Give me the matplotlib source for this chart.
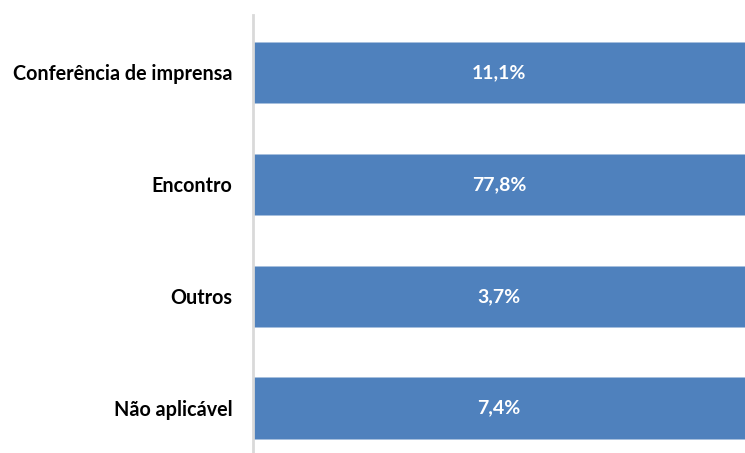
import matplotlib
matplotlib.use("Agg")
import matplotlib.pyplot as plt

categorias = ["Conferência de imprensa", "Encontro", "Outros", "Não aplicável"]
valores = [11.1, 77.8, 3.7, 7.4]
# grafico de barras 100% empilhadas: cada linha tem so uma serie
percentual_linha = [100, 100, 100, 100]
rotulos = ["11,1%", "77,8%", "3,7%", "7,4%"]

plt.rcParams['font.family'] = ['Lato', 'DejaVu Sans']

fig = plt.figure(figsize=(7.45, 4.53), dpi=100)
ax = fig.add_axes([253 / 745, 0, 1 - 253 / 745, 1 - 15 / 453])

pos = list(range(len(categorias)))
barras = ax.barh(pos, percentual_linha, height=0.55, color='#4f81bd',
                 edgecolor='#a7bfde', linewidth=0.6)

for b, txt in zip(barras, rotulos):
    ax.text(b.get_x() + b.get_width() / 2, b.get_y() + b.get_height() / 2, txt,
            ha='center', va='center', color='white', fontsize=14, fontweight='bold')

ax.set_xlim(0, 100)
ax.set_ylim(3.4, -0.513)
ax.set_yticks(pos)
ax.set_yticklabels(categorias, fontsize=14.2, fontweight='bold')
ax.tick_params(axis='y', length=0, pad=15)
ax.set_xticks([])
for s in ['top', 'right', 'bottom']:
    ax.spines[s].set_visible(False)
ax.spines['left'].set_color('#d9d9d9')
ax.spines['left'].set_linewidth(2)

fig.savefig("out.png", dpi=100)
